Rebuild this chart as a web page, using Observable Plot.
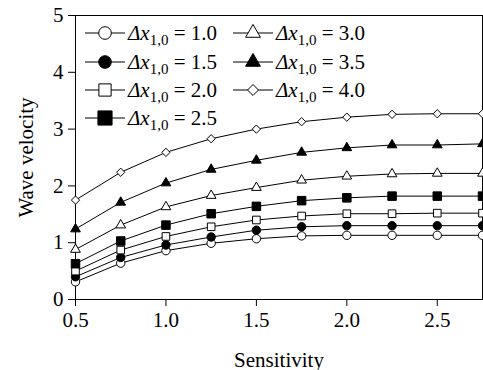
<!DOCTYPE html>
<html><head><meta charset="utf-8">
<script src="https://cdn.jsdelivr.net/npm/d3@7"></script>
<script src="https://cdn.jsdelivr.net/npm/@observablehq/plot@0.6"></script>
<style>body{margin:0;background:#fff;} #chart{position:relative;width:483px;height:370px;}</style>
</head><body><div id="chart"></div>
<script>
const sensitivity = [0.5, 0.75, 1.0, 1.25, 1.5, 1.75, 2.0, 2.25, 2.5, 2.75];
const dx10 = [0.31, 0.64, 0.86, 0.99, 1.07, 1.12, 1.13, 1.13, 1.13, 1.13];
const dx15 = [0.40, 0.74, 0.96, 1.10, 1.22, 1.28, 1.30, 1.30, 1.30, 1.30];
const dx20 = [0.50, 0.87, 1.11, 1.28, 1.40, 1.47, 1.51, 1.51, 1.52, 1.52];
const dx25 = [0.63, 1.03, 1.31, 1.51, 1.64, 1.74, 1.79, 1.82, 1.82, 1.82];
const dx30 = [0.88, 1.31, 1.63, 1.83, 1.97, 2.10, 2.17, 2.21, 2.22, 2.22];
const dx35 = [1.24, 1.71, 2.05, 2.29, 2.45, 2.59, 2.67, 2.72, 2.72, 2.74];
const dx40 = [1.75, 2.24, 2.59, 2.83, 3.00, 3.13, 3.21, 3.26, 3.27, 3.27];
const seriesLabels = ["1.0", "1.5", "2.0", "2.5", "3.0", "3.5", "4.0"];
const xTicks = [0.5, 1.0, 1.5, 2.0, 2.5];
const yTicks = [0, 1, 2, 3, 4, 5];

const diamond = {draw(ctx, size){ const s = Math.sqrt(size/2); ctx.moveTo(0,-s); ctx.lineTo(s,0); ctx.lineTo(0,s); ctx.lineTo(-s,0); ctx.closePath(); }};
const styles = [
  {symbol: "circle", fill: "white", r: 4.2},
  {symbol: "circle", fill: "black", r: 4.2},
  {symbol: "square", fill: "white", r: 4.3},
  {symbol: "square", fill: "black", r: 4.8},
  {symbol: "triangle", fill: "white", r: 3.6},
  {symbol: "triangle", fill: "black", r: 3.6},
  {symbol: diamond, fill: "white", r: 3.3}
];
const allSeries = [dx10, dx15, dx20, dx25, dx30, dx35, dx40];
const rows = [];
allSeries.forEach((vals, i) => vals.forEach((v, j) => rows.push({series: seriesLabels[i], idx: i, x: sensitivity[j], y: v})));

const marks = [Plot.frame({stroke: "black"})];
allSeries.forEach((vals, i) => {
  const d = rows.filter(r => r.idx === i);
  marks.push(Plot.line(d, {x: "x", y: "y", stroke: "black", strokeWidth: 1}));
});
allSeries.forEach((vals, i) => {
  const d = rows.filter(r => r.idx === i);
  const st = styles[i];
  marks.push(Plot.dot(d, {x: "x", y: "y", symbol: () => st.symbol, r: st.r, fill: st.fill, stroke: "black", strokeWidth: 1}));
});

const svg = Plot.plot({
  width: 483, height: 370,
  marginLeft: 75, marginRight: 1, marginTop: 15, marginBottom: 71,
  style: {fontFamily: "Liberation Serif, Times New Roman, serif", fontSize: "21px", color: "black", background: "white", overflow: "visible"},
  x: {domain: [0.5, 2.75], ticks: xTicks, tickFormat: d3.format(".1f"), tickSize: 7, tickPadding: 6, label: "Sensitivity", labelAnchor: "center", labelOffset: 67, labelArrow: "none"},
  y: {domain: [0, 5], ticks: yTicks, tickFormat: d3.format("d"), tickSize: 7, tickPadding: 5, label: "Wave velocity", labelAnchor: "center", labelOffset: 57, labelArrow: "none"},
  symbol: {type: "identity"},
  marks
});
document.getElementById("chart").appendChild(svg);

// Legend inside the plot area
const sel = d3.select(svg);
const lg = sel.append("g").attr("class", "legend").attr("text-anchor", "start");
const legendItems = seriesLabels.map((lab, i) => ({lab, i, col: i < 4 ? 0 : 1, row: i < 4 ? i : i - 4}));
const colX = [85, 233], rowY = [33, 62, 90, 118];
const legendSym = [
  d3.symbol(d3.symbolCircle, 125), d3.symbol(d3.symbolCircle, 125),
  d3.symbol(d3.symbolSquare, 150), d3.symbol(d3.symbolSquare, 200),
  d3.symbol(d3.symbolTriangle, 95), d3.symbol(d3.symbolTriangle, 95),
  d3.symbol(diamond, 60)
];
legendItems.forEach(it => {
  const x0 = colX[it.col], y0 = rowY[it.row];
  const g = lg.append("g");
  g.append("line").attr("x1", x0).attr("x2", x0 + 40).attr("y1", y0).attr("y2", y0).attr("stroke", "black");
  g.append("path").attr("d", legendSym[it.i]()).attr("transform", `translate(${x0 + 20},${y0})`)
    .attr("fill", styles[it.i].fill).attr("stroke", "black");
  const t = g.append("text").attr("x", x0 + 43).attr("y", y0 + 7).attr("font-size", 21).attr("fill", "black").attr("text-anchor", "start");
  t.append("tspan").attr("font-style", "italic").text("\u0394x");
  t.append("tspan").attr("font-size", 15).attr("dy", 5).text("1,0");
  t.append("tspan").attr("dy", -5).text(" = " + it.lab);
});
</script>
</body></html>
